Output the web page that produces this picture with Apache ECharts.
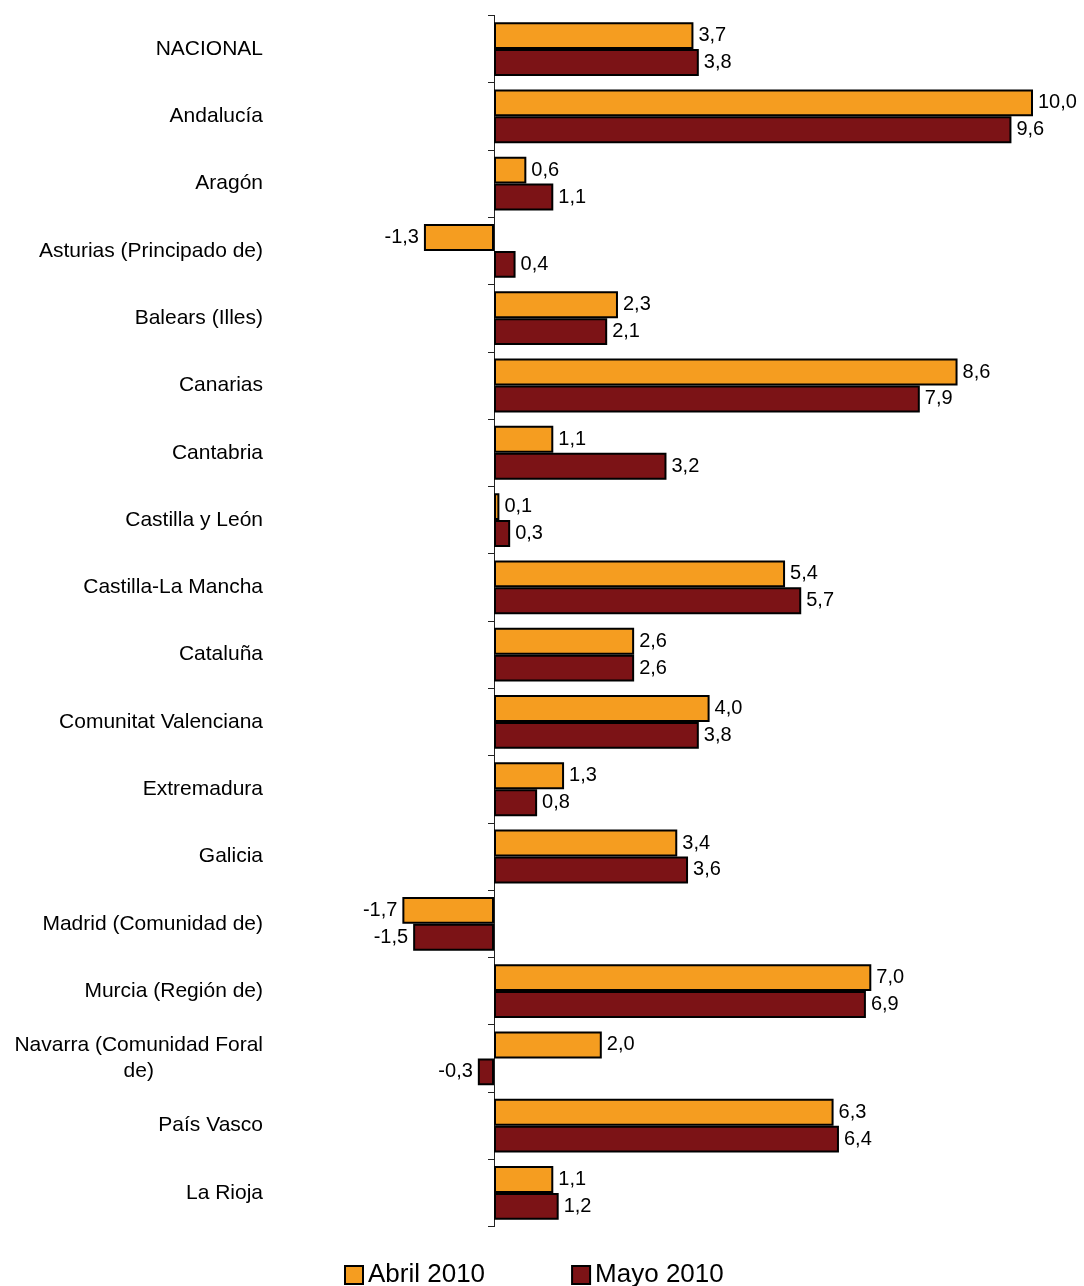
<!DOCTYPE html>
<html>
<head>
<meta charset="utf-8">
<script src="https://cdn.jsdelivr.net/npm/echarts@6/dist/echarts.min.js"></script>
<style>html,body{margin:0;padding:0;background:#fff}#c{width:1084px;height:1286px}</style>
</head>
<body>
<div id="c"></div>
<script>
const categories = ["NACIONAL","Andalucía","Aragón","Asturias (Principado de)","Balears (Illes)","Canarias","Cantabria","Castilla y León","Castilla-La Mancha","Cataluña","Comunitat Valenciana","Extremadura","Galicia","Madrid (Comunidad de)","Murcia (Región de)","Navarra (Comunidad Foral de)","País Vasco","La Rioja"];
const abril2010 = [3.7,10.0,0.6,-1.3,2.3,8.6,1.1,0.1,5.4,2.6,4.0,1.3,3.4,-1.7,7.0,2.0,6.3,1.1];
const mayo2010 = [3.8,9.6,1.1,0.4,2.1,7.9,3.2,0.3,5.7,2.6,3.8,0.8,3.6,-1.5,6.9,-0.3,6.4,1.2];
const seriesNames = ["Abril 2010","Mayo 2010"];

const FONT = "Liberation Sans, Arial, sans-serif";
const fmt = v => v.toFixed(1).replace('.', ',');
const mk = arr => arr.map(v => ({value: v, label: {position: v < 0 ? 'left' : 'right'}}));

const chart = echarts.init(document.getElementById('c'), null, {renderer: 'canvas'});
chart.setOption({
  animation: false,
  backgroundColor: '#fff',
  textStyle: {fontFamily: FONT},
  grid: {left: 278.4, right: 51, top: 15.4, bottom: 59.4, containLabel: false, outerBoundsMode: 'none'},
  legend: {
    data: seriesNames,
    left: 339, top: 1257,
    icon: 'rect', itemWidth: 18, itemHeight: 18, itemGap: 86,
    textStyle: {fontSize: 26, color: '#000', fontFamily: FONT}
  },
  xAxis: {
    type: 'value', min: -4, max: 10, show: false
  },
  yAxis: {
    type: 'category', inverse: true, data: categories,
    axisLine: {onZero: true, lineStyle: {color: '#222', width: 1}},
    axisTick: {show: true, length: 6, lineStyle: {color: '#222'}},
    axisLabel: {
      margin: 15.4, fontSize: 21, color: '#000', fontFamily: FONT, lineHeight: 26,
      formatter: v => v === "Navarra (Comunidad Foral de)" ? '{c|Navarra (Comunidad Foral\nde)}' : v,
      rich: {c: {align: 'center', fontSize: 21, lineHeight: 26, color: '#000', fontFamily: FONT}}
    },
    splitLine: {show: false}
  },
  series: [
    {
      name: seriesNames[0], type: 'bar', data: mk(abril2010),
      barGap: '0%', barCategoryGap: '20%',
      itemStyle: {color: '#F59D20', borderColor: '#000', borderWidth: 2},
      label: {show: true, distance: 5, fontSize: 20, color: '#000', fontFamily: FONT, formatter: p => fmt(p.value)}
    },
    {
      name: seriesNames[1], type: 'bar', data: mk(mayo2010),
      barGap: '0%', barCategoryGap: '20%',
      itemStyle: {color: '#7C1316', borderColor: '#000', borderWidth: 2},
      label: {show: true, distance: 5, fontSize: 20, color: '#000', fontFamily: FONT, formatter: p => fmt(p.value)}
    }
  ]
});
</script>
</body>
</html>
